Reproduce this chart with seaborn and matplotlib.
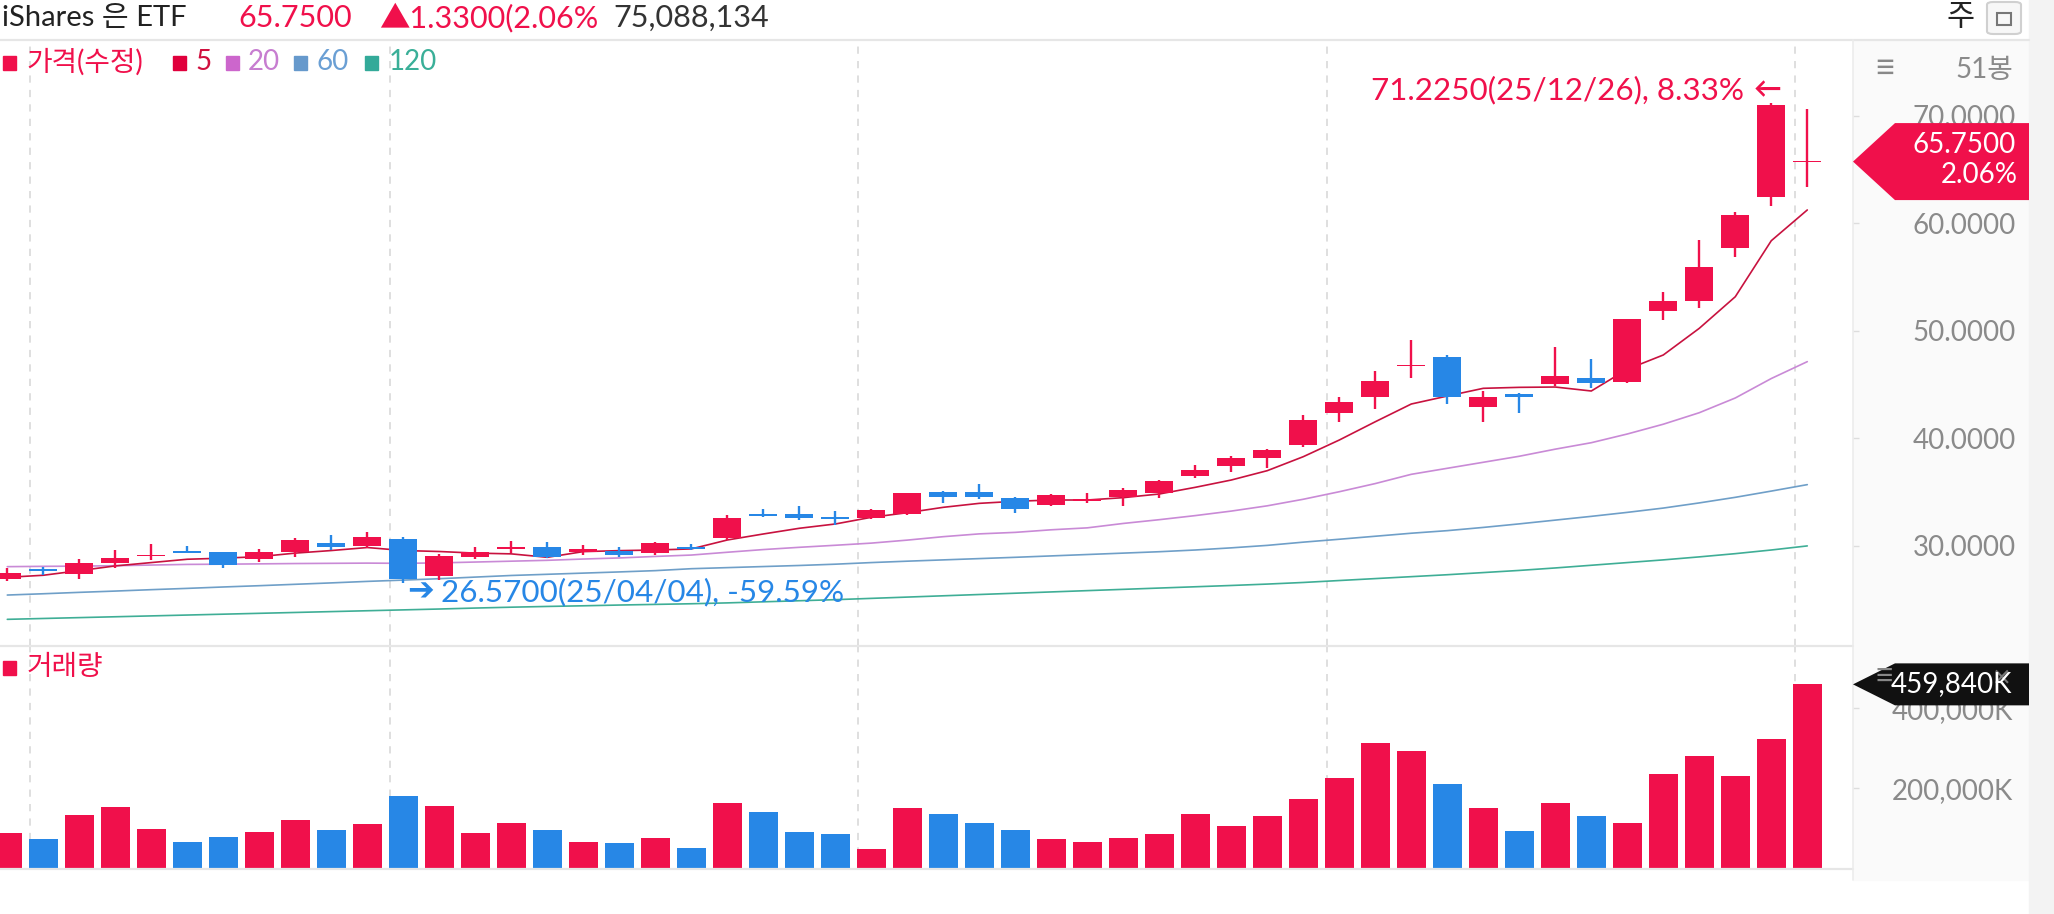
import numpy as np
import pandas as pd
import matplotlib.pyplot as plt
import seaborn as sns
from matplotlib.patches import Rectangle, Polygon, FancyBboxPatch
from matplotlib.lines import Line2D

# ---------------- weekly candles (51 bars) ----------------
opens = [26.89, 27.83, 27.39, 28.44, 29.06, 29.50, 29.40, 28.75, 29.40, 30.30,
         29.99, 30.61, 27.20, 29.00, 29.74, 29.93, 29.43, 29.56, 29.31, 29.87,
         30.70, 32.97, 32.97, 32.72, 32.60, 32.97, 35.05, 34.98, 34.45, 33.80,
         34.21, 34.52, 34.95, 36.50, 37.46, 38.21, 39.38, 42.33, 43.88, 46.73,
         47.61, 42.88, 44.11, 45.07, 45.66, 45.28, 51.89, 52.79, 57.75, 62.49,
         65.70]
highs = [27.91, 28.07, 28.75, 29.62, 30.15, 29.99, 29.47, 29.68, 30.77, 31.01,
         31.26, 30.86, 29.25, 29.87, 30.49, 30.33, 30.08, 29.87, 30.40, 30.15,
         32.85, 33.40, 33.71, 33.22, 33.43, 34.95, 35.14, 35.73, 34.58, 34.83,
         34.95, 35.36, 36.13, 37.52, 38.36, 39.01, 42.17, 43.82, 46.27, 49.15,
         47.72, 44.43, 44.20, 48.54, 47.36, 51.14, 53.66, 58.46, 61.03, 71.225,
         70.61]
lows = [26.77, 27.29, 26.89, 27.98, 28.69, 29.35, 27.92, 28.53, 28.94, 29.62,
        29.77, 26.57, 26.83, 28.75, 29.31, 28.85, 29.16, 28.94, 29.16, 29.62,
        30.55, 32.66, 32.41, 31.95, 32.50, 32.85, 33.96, 34.36, 33.03, 33.71,
        33.96, 33.71, 34.49, 36.29, 36.90, 37.22, 39.23, 41.55, 42.70, 45.65,
        43.17, 41.56, 42.40, 44.88, 44.66, 45.19, 51.02, 52.11, 56.91, 61.62,
        63.42]
closes = [27.45, 27.70, 28.38, 28.88, 29.19, 29.37, 28.19, 29.40, 30.55, 29.93,
          30.86, 26.92, 29.06, 29.40, 29.93, 29.00, 29.68, 29.19, 30.30, 29.68,
          32.57, 32.78, 32.60, 32.53, 33.34, 34.89, 34.52, 34.58, 33.48, 34.74,
          34.36, 35.20, 36.04, 37.06, 38.21, 38.92, 41.71, 43.38, 45.34, 46.86,
          43.88, 43.88, 43.83, 45.84, 45.19, 51.08, 52.82, 55.98, 60.82, 71.02,
          65.75]
# volume in K
volumes = [89200, 74200, 133300, 153300, 97500, 65800, 77500, 91700, 120000, 95000,
           110800, 180800, 155800, 89200, 112500, 95000, 65800, 62500, 75800, 50800,
           163300, 140800, 90000, 85800, 49200, 150000, 135800, 113300, 95800, 73300,
           66700, 75800, 85800, 135800, 106700, 130000, 173300, 226700, 313300, 293300,
           210000, 150000, 94200, 163300, 130800, 113300, 235800, 280800, 231700, 323300,
           459840]

# moving averages
ma5 = [27.08, 27.27, 27.70, 28.14, 28.45, 28.76, 28.86, 29.00, 29.33, 29.57,
       29.85, 29.57, 29.48, 29.33, 29.26, 28.94, 29.47, 29.56, 29.62, 29.72,
       30.55, 31.11, 31.64, 32.04, 32.66, 33.09, 33.59, 33.96, 34.15, 34.27,
       34.27, 34.49, 34.83, 35.45, 36.13, 37.00, 38.30, 39.85, 41.55, 43.20,
       43.94, 44.66, 44.75, 44.78, 44.41, 46.43, 47.76, 50.24, 53.18, 58.39,
       61.25]
ma20 = [28.07, 28.10, 28.12, 28.16, 28.22, 28.28, 28.30, 28.33, 28.36, 28.38,
        28.40, 28.38, 28.42, 28.50, 28.58, 28.66, 28.78, 28.88, 29.02, 29.15,
        29.41, 29.66, 29.87, 30.06, 30.26, 30.54, 30.86, 31.12, 31.26, 31.50,
        31.68, 32.09, 32.44, 32.82, 33.24, 33.73, 34.34, 35.04, 35.80, 36.66,
        37.22, 37.78, 38.34, 39.00, 39.60, 40.41, 41.32, 42.39, 43.76, 45.57,
        47.14]
ma60 = [25.43, 25.55, 25.68, 25.80, 25.93, 26.05, 26.18, 26.30, 26.43, 26.56,
        26.70, 26.82, 26.95, 27.10, 27.25, 27.36, 27.47, 27.58, 27.70, 27.88,
        27.98, 28.08, 28.18, 28.30, 28.45, 28.58, 28.70, 28.82, 28.94, 29.07,
        29.20, 29.33, 29.46, 29.62, 29.82, 30.05, 30.35, 30.62, 30.90, 31.18,
        31.42, 31.72, 32.05, 32.40, 32.75, 33.12, 33.52, 34.00, 34.52, 35.10,
        35.70]
ma120 = [23.17, 23.25, 23.33, 23.41, 23.49, 23.57, 23.65, 23.73, 23.81, 23.89,
         23.97, 24.05, 24.13, 24.22, 24.30, 24.37, 24.43, 24.50, 24.56, 24.62,
         24.70, 24.80, 24.90, 25.00, 25.12, 25.24, 25.36, 25.48, 25.60, 25.72,
         25.84, 25.96, 26.08, 26.20, 26.32, 26.45, 26.60, 26.78, 26.96, 27.14,
         27.32, 27.52, 27.72, 27.95, 28.20, 28.45, 28.70, 28.98, 29.28, 29.62,
         30.00]

last_price = 65.75
last_change = 1.33
last_change_pct = 2.06
total_volume = "75,088,134"
hi_date = "25/12/26"
lo_date = "25/04/04"
price_ticks = [30, 40, 50, 60, 70]
volume_ticks = [200000, 400000]

# layout (pixels)
W, H = 2054, 914
PLOT_R = 1853
quarter_lines = [0.62, 10.62, 23.63, 36.66, 49.66]

UP = "#f0104b"
DOWN = "#2787e6"
MA_COLORS = {"5": "#c8123f", "20": "#c98ad6", "60": "#6f9fc8", "120": "#3fae96"}
GRID = "#dcdcdc"
LABEL = "#8a8a8a"

sns.set_theme(style="white")
plt.rcParams["font.family"] = ["Lato", "Noto Sans CJK KR", "DejaVu Sans"]

fig = plt.figure(figsize=(W / 100, H / 100), dpi=100)
fig.patch.set_facecolor("white")


def fx(x):
    return x / W


def fy(y):
    return 1 - y / H


ax_p = fig.add_axes([0, fy(646), fx(PLOT_R), (646 - 40) / H])
ax_v = fig.add_axes([0, fy(869), fx(PLOT_R), (869 - 646) / H])

# right-hand axis panel
fig.add_artist(Rectangle((fx(PLOT_R), fy(880)), fx(2029 - PLOT_R), (880 - 40) / H,
                         transform=fig.transFigure, color="#fafafa", zorder=-1))
fig.add_artist(Rectangle((fx(2029), 0), fx(W - 2029), 1,
                         transform=fig.transFigure, color="#f3f3f3", zorder=-1))

x = np.arange(len(closes))
o = np.array(opens)
c = np.array(closes)
colors = np.where(c >= o, UP, DOWN)

# moving averages
ma_df = pd.DataFrame({"idx": x, "5": ma5, "20": ma20, "60": ma60, "120": ma120})
ma_long = ma_df.melt(id_vars="idx", var_name="ma", value_name="price")
sns.lineplot(data=ma_long, x="idx", y="price", hue="ma", hue_order=["120", "60", "20", "5"],
             palette=MA_COLORS, linewidth=1.2, legend=False, ax=ax_p, zorder=2)

# candles
ax_p.vlines(x, lows, highs, colors=colors, linewidth=1.7, zorder=3)
ax_p.bar(x, np.maximum(np.abs(c - o), 0.12), bottom=np.minimum(o, c), width=0.78,
         color=colors, linewidth=0, zorder=4)

# volume
ax_v.bar(x, volumes, width=0.8, color=colors, linewidth=0, zorder=3)

for ax in (ax_p, ax_v):
    ax.set_facecolor("white")
    ax.set_xlim(-0.203, 51.27)
    ax.set_xticks([])
    ax.set_xlabel("")
    ax.set_ylabel("")
    for s in ax.spines.values():
        s.set_visible(False)
    for q in quarter_lines:
        ax.axvline(q, color=GRID, linewidth=1.3, linestyle=(0, (4, 4)), zorder=1)
    ax.yaxis.tick_right()

ax_p.set_ylim(20.69, 77.06)
ax_v.set_ylim(-1750, 555750)

ax_p.set_yticks(price_ticks)
ax_p.set_yticklabels([f"{t:.4f}" for t in price_ticks])
ax_p.tick_params(axis="y", right=True, left=False, length=4.3, width=1, color="#dddddd",
                 pad=113, labelsize=20, labelcolor=LABEL)
ax_v.set_yticks(volume_ticks)
ax_v.set_yticklabels([f"{t:,}K" for t in volume_ticks])
ax_v.tick_params(axis="y", right=True, left=False, length=4.3, width=1, color="#dddddd",
                 pad=111, labelsize=20, labelcolor=LABEL)
for ax in (ax_p, ax_v):
    for lbl in ax.get_yticklabels():
        lbl.set_horizontalalignment("right")

# high / low annotations
hi_idx = int(np.argmax(highs))
lo_idx = int(np.argmin(lows))
hi_val, lo_val = highs[hi_idx], lows[lo_idx]
hi_pct = (hi_val / last_price - 1) * 100
lo_pct = (lo_val / last_price - 1) * 100
ax_p.annotate(f"{hi_val:.4f}({hi_date}), {hi_pct:.2f}%", xy=(hi_idx, hi_val),
              xytext=(-20, 9), textcoords="offset points", ha="right", va="center",
              color=UP, fontsize=22.6, annotation_clip=False, zorder=6)
ax_p.annotate("←", xy=(hi_idx, hi_val), xytext=(7, 9), textcoords="offset points",
              ha="right", va="center", color=UP, fontsize=20, fontweight="bold",
              annotation_clip=False, zorder=6)
ax_p.annotate("➔", xy=(lo_idx, lo_val), xytext=(2.7, -6.4), textcoords="offset points",
              ha="left", va="center", color=DOWN, fontsize=23, family="DejaVu Sans",
              annotation_clip=False, zorder=6)
ax_p.annotate(f"{lo_val:.4f}({lo_date}), {lo_pct:.2f}%", xy=(lo_idx, lo_val),
              xytext=(27, -6.4), textcoords="offset points", ha="left", va="center",
              color=DOWN, fontsize=22.6, annotation_clip=False, zorder=6)

# separators
for y, xr in ((40, 2029), (646, PLOT_R), (869, PLOT_R)):
    fig.add_artist(Line2D([0, fx(xr)], [fy(y), fy(y)], color="#e6e6e6", linewidth=1.6,
                          transform=fig.transFigure))
fig.add_artist(Line2D([fx(PLOT_R), fx(PLOT_R)], [fy(40), fy(880)], color="#ececec",
                      linewidth=1.2, transform=fig.transFigure))


def price_tag(ax, value, half, face):
    ty = ax.transData.transform((0, value))[1]
    pts = [(PLOT_R, ty), (1895, ty + half), (2029, ty + half), (2029, ty - half), (1895, ty - half)]
    fig.add_artist(Polygon([(px / W, py / H) for px, py in pts], closed=True,
                           transform=fig.transFigure, facecolor=face, edgecolor="none", zorder=5))
    return ty


ty = price_tag(ax_p, last_price, 38.5, UP)
fig.text(fx(2016), (ty + 16.5) / H, f"{last_price:.4f}", color="white", fontsize=20,
         ha="right", va="center", zorder=7)
fig.text(fx(2018), (ty - 13.5) / H, f"{last_change_pct:.2f}%", color="white", fontsize=20,
         ha="right", va="center", zorder=7)

tv = price_tag(ax_v, volumes[-1], 21, "#111111")
fig.text(fx(1884), tv / H + 0.008, "≡", color="#888888", fontsize=24, ha="center", va="center", zorder=6)
fig.text(fx(2001), tv / H + 0.008, "×", color="#777777", fontsize=22, ha="center", va="center", zorder=6)
fig.text(fx(2012), tv / H, f"{volumes[-1]:,}K", color="white", fontsize=20,
         ha="right", va="center", zorder=7)

# top of the axis panel
fig.text(fx(1885), fy(68), "≡", color="#888888", fontsize=26, ha="center", va="center")
fig.text(fx(2013), fy(70), "51봉", color=LABEL, fontsize=20, ha="right", va="center")

# header
fig.text(fx(2), fy(18), "iShares 은 ETF", color="#222222", fontsize=21, ha="left", va="center")
fig.text(fx(238), fy(18), f"{last_price:.4f}", color=UP, fontsize=22, ha="left", va="center")
fig.text(fx(379), fy(18), f"▲{last_change:.4f}({last_change_pct:.2f}%", color=UP, fontsize=22,
         ha="left", va="center")
fig.text(fx(613), fy(18), total_volume, color="#333333", fontsize=22, ha="left", va="center")
fig.text(fx(1961), fy(17), "주", color="#222222", fontsize=22, ha="center", va="center")
fig.add_artist(FancyBboxPatch((fx(1987), fy(34)), fx(34), 32 / H,
                              boxstyle="round,pad=0,rounding_size=0.003",
                              transform=fig.transFigure, facecolor="#f7f7f7",
                              edgecolor="#d0d0d0", linewidth=1.5))
fig.add_artist(Rectangle((fx(1997), fy(25)), fx(14), 12 / H, transform=fig.transFigure,
                         facecolor="none", edgecolor="#777777", linewidth=1.5))

# legends
legend_items = [("가격(수정)", UP, UP, 3, 26),
                ("5", "#e0003c", "#d0103f", 173, 195),
                ("20", "#cc66cc", "#c77dd0", 226, 248),
                ("60", "#6699cc", "#6a9fd4", 294, 317),
                ("120", "#33aa99", "#3aaf98", 365, 389)]
for label, sq, tc, sx, tx in legend_items:
    fig.add_artist(Rectangle((fx(sx), fy(70)), fx(13), 14 / H, transform=fig.transFigure,
                             color=sq))
    fig.text(fx(tx), fy(62), label, color=tc, fontsize=20, ha="left", va="center")

fig.add_artist(Rectangle((fx(3), fy(675)), fx(13), 14 / H, transform=fig.transFigure, color=UP))
fig.text(fx(27), fy(667), "거래량", color=UP, fontsize=20, ha="left", va="center")

fig.savefig("out.png", dpi=100, facecolor="white")
